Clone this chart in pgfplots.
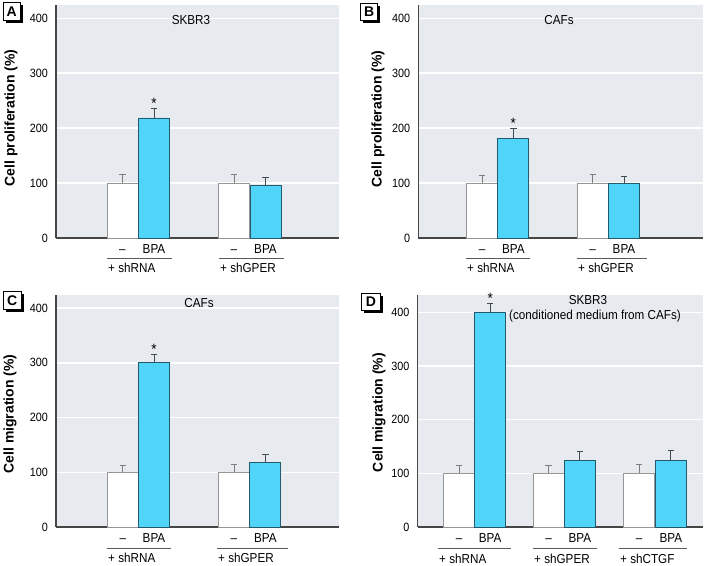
\documentclass[border=0pt]{standalone}
\usepackage{fontspec}
\setmainfont{Liberation Sans}[FakeStretch=0.9]
\newfontfamily\labfont{Liberation Sans}
\usepackage{pgfplots}
\pgfplotsset{compat=1.18}
\definecolor{bgc}{RGB}{231,235,240}
\definecolor{bfill}{RGB}{80,212,247}
\definecolor{bedge}{RGB}{35,90,110}
\definecolor{wedge}{RGB}{150,150,150}
\definecolor{werr}{RGB}{125,125,125}
\definecolor{berr}{RGB}{65,75,85}
\definecolor{axc}{RGB}{70,70,70}
\newcommand{\ft}{\fontsize{13}{15}\selectfont}
\pgfplotsset{
  panel/.style={scale only axis, anchor=south west, ymin=0,
    axis x line*=bottom, axis y line*=left,
    axis line style={draw=axc, line width=1.2pt, -},
    axis background/.style={fill=bgc},
    ymajorgrids, grid style={white, line width=1.3pt},
    ytick={0,100,200,300,400}, major tick length=0pt, tick style={draw=none},
    yticklabel style={font=\fontsize{12}{14}\selectfont, inner sep=0pt, xshift=-8pt},
    xticklabel style={font=\ft, inner sep=0pt, text height=9pt, text depth=0pt, yshift=-6pt},
    /pgf/number format/assume math mode=true,
    ylabel style={font=\labfont\bfseries\fontsize{14}{16}\selectfont, anchor=center},
    clip=false},
  wbar/.style={ybar, bar width=31, bar shift=0pt, fill=white, draw=wedge, line width=0.8pt,
    error bars/.cd, y dir=plus, y explicit,
    error bar style={draw=werr, line width=0.9pt},
    error mark options={rotate=90, mark size=3.2pt, draw=werr, line width=0.9pt}},
  bbar/.style={ybar, bar width=31, bar shift=0pt, fill=bfill, draw=bedge, line width=0.8pt,
    error bars/.cd, y dir=plus, y explicit,
    error bar style={draw=berr, line width=0.9pt},
    error mark options={rotate=90, mark size=3.2pt, draw=berr, line width=0.9pt}},
}
\tikzset{star/.style={anchor=south, inner sep=0pt, yshift=-1pt, font=\fontsize{15}{17}\selectfont},
  gline/.style={draw=black!65, line width=0.8pt},
  gtext/.style={anchor=west, inner sep=0pt, font=\ft},
  letterbox/.style={draw=black, fill=white, line width=0.8pt},
  letter/.style={font=\labfont\bfseries\fontsize{14}{16}\selectfont}}
\begin{document}
\begin{tikzpicture}[x=1pt,y=1pt]
\useasboundingbox (0,0) rectangle (706,-565);
% Panel A
\begin{axis}[panel, at={(56pt,-238pt)}, width=283pt, height=233pt,
  xmin=56, xmax=339, ymax=424,
  xtick={122.5,154,234,265.5}, xticklabels={\textendash,BPA,\textendash,BPA},
  ylabel={Cell proliferation (\%)},
  ylabel style={at={(axis description cs:-0.159,0.515)}}]
\addplot[wbar] coordinates {(122.5,100) +- (0,15) (234,100) +- (0,16)};
\addplot[bbar] coordinates {(154,218.5) +- (0,17.5) (265.5,95) +- (0,15.5)};
\node[star] at (axis cs:154,237) {*};
\end{axis}
% Panel B
\begin{axis}[panel, at={(418.3pt,-238pt)}, width=284.7pt, height=233pt,
  xmin=418.3, xmax=703, ymax=424,
  xtick={482,513.3,592.7,624}, xticklabels={\textendash,BPA,\textendash,BPA},
  ylabel={Cell proliferation (\%)},
  ylabel style={at={(axis description cs:-0.1416,0.511)}}]
\addplot[wbar] coordinates {(482,100) +- (0,13) (592.7,99.5) +- (0,15.5)};
\addplot[bbar] coordinates {(513.3,181.5) +- (0,18.5) (624,99) +- (0,12.5)};
\node[star] at (axis cs:513.3,201) {*};
\end{axis}
% Panel C
\begin{axis}[panel, at={(56pt,-527pt)}, width=283pt, height=232pt,
  xmin=56, xmax=339, ymax=424,
  xtick={122.8,154,234,265.3}, xticklabels={\textendash,BPA,\textendash,BPA},
  ylabel={Cell migration (\%)},
  ylabel style={at={(axis description cs:-0.1625,0.487)}}]
\addplot[wbar] coordinates {(122.8,100) +- (0,13) (234,100) +- (0,14.5)};
\addplot[bbar] coordinates {(154,301) +- (0,15) (265.3,118.5) +- (0,14.5)};
\node[star] at (axis cs:154,317) {*};
\end{axis}
% Panel D
\begin{axis}[panel, at={(417.7pt,-527pt)}, width=285.6pt, height=232pt,
  xmin=417.7, xmax=703.3, ymax=432,
  xtick={459.2,490.2,548.5,579.8,639.2,670.8},
  xticklabels={\textendash,BPA,\textendash,BPA,\textendash,BPA},
  ylabel={Cell migration (\%)},
  ylabel style={at={(axis description cs:-0.1355,0.4935)}}]
\addplot[wbar] coordinates {(459.2,100) +- (0,15) (548.5,100) +- (0,15.5) (639.2,100) +- (0,16.5)};
\addplot[bbar] coordinates {(490.2,400) +- (0,16.5) (579.8,124.5) +- (0,15.5) (670.8,123.5) +- (0,18.5)};
\node[star] at (axis cs:490.2,417.5) {*};
\end{axis}
% titles
\node[font=\ft] at (191,-20) {SKBR3};
\node[font=\ft] at (559,-20) {CAFs};
\node[font=\ft] at (199,-303) {CAFs};
\node[font=\ft] at (588,-300) {SKBR3};
\node[font=\ft] at (595,-316) {(conditioned medium from CAFs)};
% group lines and labels
\draw[gline] (107,-258.3) -- (172,-258.3);
\draw[gline] (219,-258.3) -- (283.5,-258.3);
\node[gtext] at (108,-268) {+ shRNA};
\node[gtext] at (220,-268) {+ shGPER};
\draw[gline] (465.7,-258) -- (530,-258);
\draw[gline] (576.7,-258) -- (646.5,-258);
\node[gtext] at (467,-268) {+ shRNA};
\node[gtext] at (578,-268) {+ shGPER};
\draw[gline] (107,-548) -- (171,-548);
\draw[gline] (217,-548) -- (288,-548);
\node[gtext] at (108,-558) {+ shRNA};
\node[gtext] at (218,-558) {+ shGPER};
\draw[gline] (438,-548.3) -- (510.7,-548.3);
\draw[gline] (533,-548.3) -- (596.7,-548.3);
\draw[gline] (619,-548.3) -- (686.7,-548.3);
\node[gtext] at (439,-558.5) {+ shRNA};
\node[gtext] at (534,-558.5) {+ shGPER};
\node[gtext] at (620,-558.5) {+ shCTGF};
% letter boxes
\fill[black] (6,-4.5) rectangle (22.5,-23);
\draw[letterbox] (3.5,-2) rectangle (20,-20.5);
\node[letter] at (11.75,-11.25) {A};
\fill[black] (363.2,-6) rectangle (380,-23);
\draw[letterbox] (360.7,-3.5) rectangle (377.5,-20.5);
\node[letter] at (369.1,-12) {B};
\fill[black] (6,-294) rectangle (23.5,-311.5);
\draw[letterbox] (3.5,-291.5) rectangle (21,-309);
\node[letter] at (12.25,-300.25) {C};
\fill[black] (364.2,-296) rectangle (382.5,-313);
\draw[letterbox] (361.7,-293.5) rectangle (380,-310.5);
\node[letter] at (370.85,-302) {D};
\end{tikzpicture}
\end{document}
